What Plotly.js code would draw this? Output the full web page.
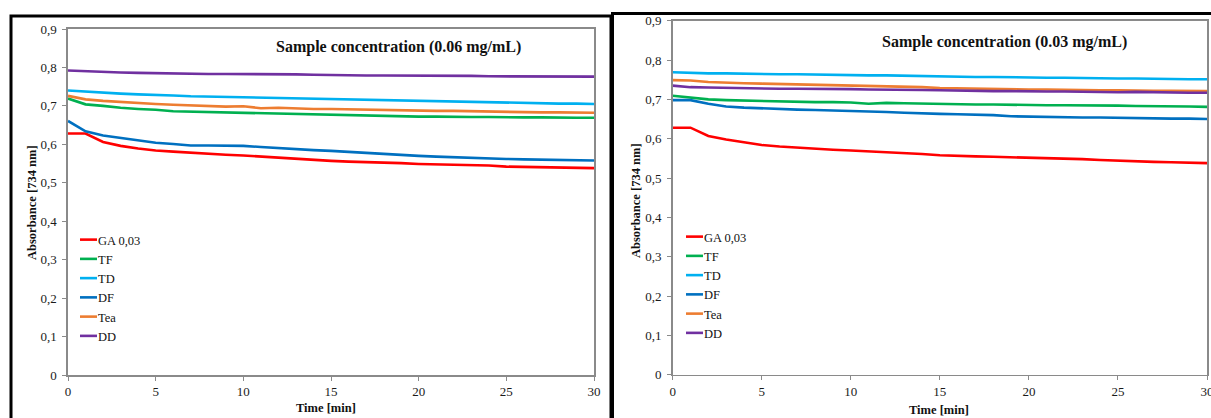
<!DOCTYPE html>
<html>
<head>
<meta charset="utf-8">
<script src="https://cdn.plot.ly/plotly-3.0.1.min.js"></script>
<style>html,body{margin:0;padding:0;background:#fff;}#chart{width:1211px;height:418px;}</style>
</head>
<body>
<div id="chart"></div>
<script>
// ---- data ----
const timeMin = [0,1,2,3,4,5,6,7,8,9,10,11,12,13,14,15,16,17,18,19,20,21,22,23,24,25,26,27,28,29,30];
const seriesNames = ["GA 0,03","TF","TD","DF","Tea","DD"];
const seriesColors = ["#FF0000","#00B050","#00B0F0","#0070C0","#ED7D31","#7030A0"];
const xTickVals = [0,5,10,15,20,25,30];
const yTickVals = [0,0.1,0.2,0.3,0.4,0.5,0.6,0.7,0.8,0.9];
const chartTitles = ["Sample concentration (0.06 mg/mL)","Sample concentration (0.03 mg/mL)"];
const xTitle = "Time [min]";
const yTitle = "Absorbance [734 nm]";

// 0.06 mg/mL
const ga06  = [.628,.628,.606,.596,.589,.584,.581,.578,.576,.573,.571,.568,.565,.563,.560,.557,.555,.554,.553,.551,.549,.548,.547,.546,.545,.542,.541,.540,.539,.539,.538];
const tf06  = [.719,.704,.700,.695,.692,.690,.686,.685,.684,.683,.681,.680,.679,.679,.678,.677,.676,.674,.673,.673,.672,.672,.671,.671,.671,.670,.670,.670,.669,.669,.669];
const td06  = [.740,.737,.734,.732,.730,.729,.727,.725,.724,.723,.722,.721,.720,.719,.718,.717,.716,.715,.714,.713,.712,.711,.710,.710,.709,.708,.708,.707,.706,.706,.705];
const df06  = [.661,.634,.623,.617,.611,.604,.601,.597,.597,.597,.596,.593,.590,.588,.585,.583,.580,.578,.575,.572,.570,.568,.566,.564,.563,.562,.561,.560,.559,.559,.558];
const tea06 = [.726,.717,.713,.710,.707,.705,.703,.701,.699,.698,.699,.694,.695,.693,.692,.692,.691,.690,.689,.689,.688,.687,.687,.686,.685,.684,.684,.683,.683,.682,.682];
const dd06  = [.792,.790,.788,.787,.786,.785,.784,.784,.783,.783,.783,.782,.782,.782,.781,.780,.780,.779,.779,.779,.779,.778,.778,.778,.777,.777,.777,.777,.776,.776,.776];

// 0.03 mg/mL
const ga03  = [.628,.628,.607,.598,.591,.584,.580,.577,.575,.572,.570,.568,.566,.563,.561,.558,.556,.555,.554,.553,.552,.551,.549,.548,.546,.544,.543,.541,.540,.539,.538];
const tf03  = [.709,.705,.700,.698,.697,.695,.694,.694,.693,.693,.692,.689,.691,.690,.689,.688,.688,.687,.687,.686,.686,.685,.685,.685,.684,.684,.683,.683,.682,.682,.681];
const td03  = [.769,.767,.766,.766,.765,.765,.764,.764,.763,.763,.762,.761,.761,.760,.759,.758,.758,.757,.757,.756,.755,.755,.755,.754,.754,.753,.753,.752,.752,.751,.751];
const df03  = [.698,.698,.689,.682,.679,.677,.676,.674,.673,.672,.670,.669,.668,.666,.664,.663,.662,.661,.660,.657,.656,.656,.655,.654,.654,.653,.653,.652,.651,.651,.650];
const tea03 = [.749,.748,.744,.742,.741,.740,.739,.738,.737,.737,.736,.735,.734,.733,.731,.729,.728,.728,.727,.726,.725,.725,.724,.724,.723,.723,.722,.722,.722,.721,.721];
const dd03  = [.735,.731,.730,.729,.728,.728,.727,.727,.727,.726,.726,.725,.725,.724,.724,.723,.722,.722,.721,.721,.720,.720,.720,.719,.719,.718,.719,.718,.718,.717,.717];

const panelLeft  = [ga06, tf06, td06, df06, tea06, dd06];
const panelRight = [ga03, tf03, td03, df03, tea03, dd03];

// ---- build ----
const W = 1211, H = 418;
const px = v => v / W;
const py = v => (H - v) / H;
const serif = "Liberation Serif, Times New Roman, serif";

const traces = [];
panelLeft.forEach((ys, i) => traces.push({
  x: timeMin, y: ys, type: "scatter", mode: "lines", name: seriesNames[i],
  line: {color: seriesColors[i], width: 2.6}, xaxis: "x", yaxis: "y", legend: "legend"
}));
panelRight.forEach((ys, i) => traces.push({
  x: timeMin, y: ys, type: "scatter", mode: "lines", name: seriesNames[i],
  line: {color: seriesColors[i], width: 2.6}, xaxis: "x2", yaxis: "y2", legend: "legend2"
}));

const axisCommon = {
  showgrid: false, zeroline: false, showline: true, mirror: true,
  linecolor: "#8a8a8a", linewidth: 1.6,
  ticks: "outside", ticklen: 4, tickwidth: 1, tickcolor: "#8a8a8a",
  tickfont: {family: serif, size: 13, color: "#1a1a1a"}, fixedrange: true,
  ticklabeloverflow: "allow"
};
const xAxisCommon = Object.assign({}, axisCommon, {range: [0, 30], tickmode: "array", tickvals: xTickVals});
const yAxisCommon = Object.assign({}, axisCommon, {range: [0, 0.9], tickmode: "array", tickvals: yTickVals, tickformat: ".1~f", ticklabelstandoff: 3});

const legendCommon = {
  font: {family: serif, size: 12.5, color: "#111"}, bgcolor: "rgba(0,0,0,0)",
  borderwidth: 0, tracegroupgap: 0, xanchor: "left", yanchor: "top", traceorder: "normal"
};

const titleFont = {family: serif, size: 16, color: "#111"};
const axTitleFont = {family: serif, size: 12.5, color: "#111"};
const ann = (text, x, y, font, angle) => ({
  text: "<b>" + text + "</b>", xref: "paper", yref: "paper", x: px(x), y: py(y),
  xanchor: "center", yanchor: "middle", showarrow: false, font: font, textangle: angle || 0
});

const layout = {
  width: W, height: H, margin: {l: 0, r: 0, t: 0, b: 0},
  paper_bgcolor: "#fff", plot_bgcolor: "#fff",
  separators: ", ",
  showlegend: true,
  xaxis:  Object.assign({}, xAxisCommon, {domain: [px(68), px(594)], anchor: "y"}),
  yaxis:  Object.assign({}, yAxisCommon, {domain: [py(375), py(29)], anchor: "x"}),
  xaxis2: Object.assign({}, xAxisCommon, {domain: [px(672.7), px(1207)], anchor: "y2"}),
  yaxis2: Object.assign({}, yAxisCommon, {domain: [py(374.7), py(20.7)], anchor: "x2"}),
  legend:  Object.assign({}, legendCommon, {x: px(58), y: py(225)}),
  legend2: Object.assign({}, legendCommon, {x: px(664), y: py(222)}),
  annotations: [
    ann(chartTitles[0], 398, 47, titleFont),
    ann(chartTitles[1], 1004, 42, titleFont),
    ann(xTitle, 326, 408, axTitleFont),
    ann(xTitle, 939, 410, axTitleFont),
    ann(yTitle, 32, 203, axTitleFont, -90),
    ann(yTitle, 636, 201, axTitleFont, -90)
  ],
  shapes: [
    {type: "rect", xref: "paper", yref: "paper", x0: px(11), x1: px(611), y0: -0.1, y1: py(16), line: {color: "#000", width: 3}},
    {type: "rect", xref: "paper", yref: "paper", x0: px(612.5), x1: 1.1, y0: -0.1, y1: py(13.5), line: {color: "#000", width: 3}}
  ]
};

Plotly.newPlot("chart", traces, layout, {staticPlot: true, displayModeBar: false}).then(gd => {
  // shorter legend line samples, as in the reference
  gd.querySelectorAll(".legendlines path").forEach(p => p.setAttribute("d", "M22,0h17"));
});
</script>
</body>
</html>
